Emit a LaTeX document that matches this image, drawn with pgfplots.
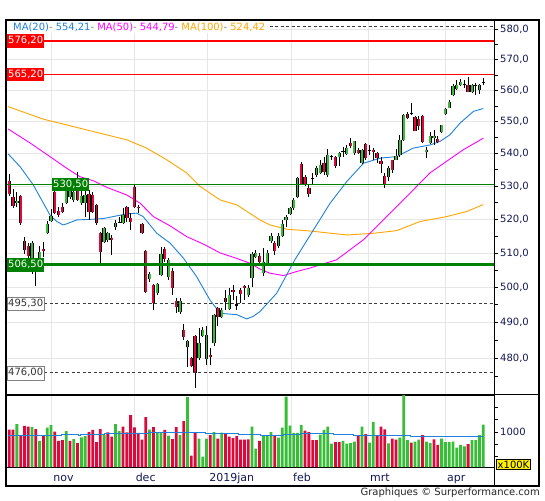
\documentclass[border=0pt]{standalone}
\usepackage{pgfplots}
\pgfplotsset{compat=1.18}
\usepackage{pgfplotstable}
\usepackage{fontspec}
\setmainfont{DejaVu Sans}
\definecolor{cred}{RGB}{220,10,60}
\definecolor{cgreen}{RGB}{55,190,55}
\definecolor{cblue}{RGB}{30,130,220}
\definecolor{cmag}{RGB}{255,0,255}
\definecolor{corange}{RGB}{255,165,0}
\definecolor{lvred}{RGB}{255,0,0}
\definecolor{lvgreen}{RGB}{0,128,0}
\definecolor{gridc}{RGB}{230,230,230}
\definecolor{labc}{RGB}{20,25,85}
\definecolor{dashc}{RGB}{60,60,60}

% wicks: low, high, break
\pgfplotstableread[row sep=\\]{
x y\\
0 527.0\\0 533.8\\0 nan\\ 1 523.4\\1 529.2\\1 nan\\ 2 523.7\\2 528.3\\2 nan\\ 3 518.3\\3 527.3\\3 nan\\
4 509.7\\4 514.8\\4 nan\\ 5 507.4\\5 513.0\\5 nan\\ 6 503.9\\6 513.6\\6 nan\\ 7 500.4\\7 508.3\\7 nan\\
8 507.4\\8 512.1\\8 nan\\ 9 508.9\\9 513.3\\9 nan\\ 10 515.6\\10 519.5\\10 nan\\ 11 519.2\\11 523.1\\11 nan\\
12 521.6\\12 528.6\\12 nan\\ 13 520.7\\13 523.7\\13 nan\\ 14 521.9\\14 524.9\\14 nan\\ 15 524.6\\15 530.1\\15 nan\\
16 526.1\\16 530.7\\16 nan\\ 17 525.2\\17 530.1\\17 nan\\ 18 525.5\\18 534.4\\18 nan\\ 19 524.3\\19 528.9\\19 nan\\
20 520.7\\20 529.5\\20 nan\\ 21 519.8\\21 528.9\\21 nan\\ 22 521.9\\22 528.3\\22 nan\\ 23 518.3\\23 524.6\\23 nan\\
24 507.1\\24 516.2\\24 nan\\ 25 513.0\\25 517.7\\25 nan\\ 26 513.3\\26 516.2\\26 nan\\ 27 509.4\\27 515.3\\27 nan\\
28 516.8\\28 519.8\\28 nan\\ 29 518.9\\29 520.7\\29 nan\\ 30 518.6\\30 523.4\\30 nan\\ 31 519.2\\31 524.0\\31 nan\\
32 516.8\\32 521.9\\32 nan\\ 33 523.4\\33 530.4\\33 nan\\ 34 521.9\\34 524.3\\34 nan\\ 35 515.6\\35 519.0\\35 nan\\
36 498.4\\36 510.9\\36 nan\\ 37 501.6\\37 504.5\\37 nan\\ 38 493.6\\38 500.9\\38 nan\\ 39 497.9\\39 501.3\\39 nan\\
40 503.3\\40 511.8\\40 nan\\ 41 507.4\\41 511.8\\41 nan\\ 42 502.2\\42 508.6\\42 nan\\ 43 497.9\\43 505.7\\43 nan\\
44 492.7\\44 497.0\\44 nan\\ 45 492.5\\45 497.0\\45 nan\\ 46 485.1\\46 489.6\\46 nan\\ 47 477.7\\47 485.1\\47 nan\\
48 477.6\\48 480.4\\48 nan\\ 49 471.8\\49 486.4\\49 nan\\ 50 479.6\\50 488.5\\50 nan\\ 51 486.0\\51 488.6\\51 nan\\
52 478.2\\52 488.9\\52 nan\\ 53 478.2\\53 482.8\\53 nan\\ 54 483.3\\54 492.4\\54 nan\\ 55 488.9\\55 494.5\\55 nan\\
56 491.2\\56 494.0\\56 nan\\ 57 493.6\\57 499.3\\57 nan\\ 58 493.6\\58 499.8\\58 nan\\ 59 496.4\\59 500.7\\59 nan\\
60 493.6\\60 497.4\\60 nan\\ 61 495.5\\61 499.8\\61 nan\\ 62 496.4\\62 500.7\\62 nan\\ 63 497.2\\63 500.7\\63 nan\\
64 500.2\\64 510.4\\64 nan\\ 65 508.5\\65 510.9\\65 nan\\ 66 506.2\\66 510.0\\66 nan\\ 67 503.2\\67 511.4\\67 nan\\
68 506.5\\68 510.9\\68 nan\\ 69 512.9\\69 515.8\\69 nan\\ 70 509.4\\70 513.4\\70 nan\\ 71 511.5\\71 515.9\\71 nan\\
72 514.8\\72 519.8\\72 nan\\ 73 517.8\\73 521.3\\73 nan\\ 74 521.3\\74 523.8\\74 nan\\ 75 522.8\\75 526.3\\75 nan\\
76 526.3\\76 532.9\\76 nan\\ 77 530.5\\77 537.5\\77 nan\\ 78 530.1\\78 533.4\\78 nan\\ 79 526.6\\79 530.7\\79 nan\\
80 530.7\\80 534.0\\80 nan\\ 81 532.8\\81 536.0\\81 nan\\ 82 533.8\\82 538.1\\82 nan\\ 83 533.4\\83 539.1\\83 nan\\
84 532.9\\84 541.4\\84 nan\\ 85 538.1\\85 539.6\\85 nan\\ 86 535.5\\86 539.3\\86 nan\\ 87 536.2\\87 540.6\\87 nan\\
88 539.1\\88 542.2\\88 nan\\ 89 539.6\\89 542.7\\89 nan\\ 90 541.7\\90 544.8\\90 nan\\ 91 539.6\\91 544.0\\91 nan\\
92 539.9\\92 541.7\\92 nan\\ 93 536.8\\93 541.4\\93 nan\\ 94 538.1\\94 543.2\\94 nan\\ 95 539.6\\95 542.7\\95 nan\\
96 538.1\\96 541.7\\96 nan\\ 97 537.1\\97 540.6\\97 nan\\ 98 534.0\\98 539.1\\98 nan\\ 99 529.4\\99 534.0\\99 nan\\
100 531.7\\100 536.0\\100 nan\\ 101 534.0\\101 538.1\\101 nan\\ 102 537.9\\102 541.4\\102 nan\\ 103 539.1\\103 545.9\\103 nan\\
104 544.1\\104 552.4\\104 nan\\ 105 550.8\\105 553.2\\105 nan\\ 106 552.2\\106 555.9\\106 nan\\ 107 547.1\\107 551.9\\107 nan\\
108 547.4\\108 551.7\\108 nan\\ 109 543.3\\109 552.1\\109 nan\\ 110 538.6\\110 542.2\\110 nan\\ 111 543.1\\111 546.9\\111 nan\\
112 542.7\\112 547.4\\112 nan\\ 113 543.3\\113 545.6\\113 nan\\ 114 546.4\\114 549.0\\114 nan\\ 115 552.2\\115 554.4\\115 nan\\
116 554.4\\116 557.0\\116 nan\\ 117 558.3\\117 562.1\\117 nan\\ 118 560.2\\118 563.4\\118 nan\\ 119 561.5\\119 563.7\\119 nan\\
120 560.8\\120 563.4\\120 nan\\ 121 559.4\\121 564.5\\121 nan\\ 122 559.2\\122 562.1\\122 nan\\ 123 558.6\\123 562.4\\123 nan\\
124 558.9\\124 562.1\\124 nan\\ 125 561.8\\125 564.0\\125 nan\\
}\wicks

% falling bodies: open, close, break
\pgfplotstableread[row sep=\\]{
x y\\
0 531.6\\0 527.6\\0 nan\\ 1 526.7\\1 524.0\\1 nan\\ 3 527.0\\3 518.9\\3 nan\\ 4 513.6\\4 510.9\\4 nan\\
5 512.1\\5 509.2\\5 nan\\ 7 507.4\\7 506.5\\7 nan\\ 9 511.2\\9 510.6\\9 nan\\ 12 528.3\\12 521.9\\12 nan\\
13 522.5\\13 521.3\\13 nan\\ 14 523.7\\14 522.2\\14 nan\\ 18 531.3\\18 525.8\\18 nan\\ 21 527.6\\21 522.2\\21 nan\\
22 527.3\\22 522.2\\22 nan\\ 23 524.3\\23 518.9\\23 nan\\ 24 515.9\\24 510.3\\24 nan\\ 27 514.5\\27 513.9\\27 nan\\
31 523.7\\31 520.4\\31 nan\\ 32 520.4\\32 519.2\\32 nan\\ 33 529.8\\33 523.7\\33 nan\\ 34 523.8\\34 523.3\\34 nan\\
35 518.6\\35 515.9\\35 nan\\ 36 510.6\\36 498.7\\36 nan\\ 38 500.7\\38 495.6\\38 nan\\ 41 511.2\\41 508.3\\41 nan\\
43 504.8\\43 499.9\\43 nan\\ 44 496.1\\44 494.4\\44 nan\\ 46 487.9\\46 486.0\\46 nan\\ 48 480.0\\48 478.0\\48 nan\\
49 486.2\\49 475.9\\49 nan\\ 53 480.8\\53 480.3\\53 nan\\ 55 494.2\\55 491.5\\55 nan\\ 57 497.0\\57 495.9\\57 nan\\
59 499.3\\59 498.6\\59 nan\\ 61 499.3\\61 498.1\\61 nan\\ 62 500.4\\62 499.8\\62 nan\\ 66 509.2\\66 507.4\\66 nan\\
70 512.9\\70 510.7\\70 nan\\ 77 536.7\\77 530.7\\77 nan\\ 78 532.7\\78 530.7\\78 nan\\ 79 529.5\\79 527.5\\79 nan\\
83 537.1\\83 534.2\\83 nan\\ 86 539.1\\86 536.0\\86 nan\\ 90 543.3\\90 542.5\\90 nan\\ 92 541.2\\92 540.1\\92 nan\\
94 543.0\\94 538.5\\94 nan\\ 96 541.0\\96 540.6\\96 nan\\ 97 540.3\\97 538.6\\97 nan\\ 98 537.6\\98 536.7\\98 nan\\
99 533.1\\99 530.7\\99 nan\\ 101 537.9\\101 535.0\\101 nan\\ 105 552.4\\105 551.3\\105 nan\\ 107 551.4\\107 547.2\\107 nan\\
108 550.8\\108 548.5\\108 nan\\ 109 551.9\\109 543.6\\109 nan\\ 113 544.5\\113 543.5\\113 nan\\ 121 561.8\\121 559.6\\121 nan\\
}\bodyred

% rising bodies: open, close, break
\pgfplotstableread[row sep=\\]{
x y\\
2 524.9\\2 525.5\\2 nan\\ 6 504.5\\6 513.0\\6 nan\\ 8 508.6\\8 510.3\\8 nan\\ 10 515.9\\10 518.6\\10 nan\\
11 519.5\\11 521.0\\11 nan\\ 15 524.9\\15 528.9\\15 nan\\ 16 526.7\\16 529.5\\16 nan\\ 17 525.8\\17 528.3\\17 nan\\
19 524.9\\19 527.0\\19 nan\\ 20 524.9\\20 527.3\\20 nan\\ 25 513.3\\25 517.4\\25 nan\\ 26 513.9\\26 515.9\\26 nan\\
28 517.7\\28 518.9\\28 nan\\ 30 518.9\\30 521.3\\30 nan\\ 37 502.5\\37 503.9\\37 nan\\ 39 498.4\\39 501.0\\39 nan\\
40 503.6\\40 509.7\\40 nan\\ 42 503.0\\42 508.0\\42 nan\\ 45 493.0\\45 496.1\\45 nan\\ 47 483.0\\47 484.7\\47 nan\\
50 480.0\\50 484.2\\50 nan\\ 51 486.2\\51 487.9\\51 nan\\ 52 479.8\\52 486.5\\52 nan\\ 54 484.2\\54 492.2\\54 nan\\
56 491.5\\56 493.4\\56 nan\\ 58 493.9\\58 497.7\\58 nan\\ 63 497.7\\63 499.9\\63 nan\\ 64 502.7\\64 509.7\\64 nan\\
65 508.8\\65 510.0\\65 nan\\ 67 504.1\\67 507.5\\67 nan\\ 68 507.0\\68 510.1\\68 nan\\ 69 513.4\\69 515.0\\69 nan\\
71 511.9\\71 515.0\\71 nan\\ 72 515.0\\72 518.6\\72 nan\\ 73 519.6\\73 520.8\\73 nan\\ 74 521.6\\74 523.3\\74 nan\\
75 523.3\\75 525.8\\75 nan\\ 76 526.6\\76 532.6\\76 nan\\ 81 533.4\\81 535.4\\81 nan\\ 82 534.0\\82 536.5\\82 nan\\
84 533.4\\84 539.4\\84 nan\\ 87 539.1\\87 540.1\\87 nan\\ 89 539.9\\89 541.7\\89 nan\\ 91 540.1\\91 543.8\\91 nan\\
93 537.1\\93 541.2\\93 nan\\ 100 532.9\\100 535.5\\100 nan\\ 102 538.1\\102 539.3\\102 nan\\ 103 539.6\\103 544.3\\103 nan\\
104 544.3\\104 552.2\\104 nan\\ 110 540.5\\110 541.2\\110 nan\\ 111 543.3\\111 545.4\\111 nan\\ 112 544.8\\112 545.6\\112 nan\\
114 546.9\\114 548.8\\114 nan\\ 115 552.5\\115 554.1\\115 nan\\ 116 554.5\\116 556.3\\116 nan\\ 117 558.6\\117 561.5\\117 nan\\
118 560.5\\118 561.8\\118 nan\\ 119 561.8\\119 562.8\\119 nan\\ 122 559.6\\122 561.8\\122 nan\\ 124 560.2\\124 561.8\\124 nan\\
}\bodygreen

% flat bodies (open ~ close)
\pgfplotstableread[row sep=\\]{
x y\\
29 519.3\\29 519.0\\29 nan\\ 60 495.1\\60 494.8\\60 nan\\ 80 532.6\\80 532.3\\80 nan\\ 85 539.0\\85 539.3\\85 nan\\
88 540.5\\88 540.8\\88 nan\\ 95 540.9\\95 541.2\\95 nan\\ 106 552.8\\106 552.5\\106 nan\\ 120 562.2\\120 561.9\\120 nan\\
123 561.5\\123 561.8\\123 nan\\ 125 562.4\\125 562.7\\125 nan\\
}\bodyflat

\begin{document}
\begin{tikzpicture}
\useasboundingbox (0pt,0pt) rectangle (545pt,500pt);
\fill[white] (0pt,0pt) rectangle (545pt,500pt);

% ---------------- price panel ----------------
\begin{axis}[
  at={(6pt,105pt)}, anchor=south west,
  scale only axis, width=488pt, height=375pt,
  xmin=-0.87, xmax=127.82,
  ymode=log, ymin=470.02, ymax=583.2,
  axis line style={black, line width=1pt},
  xtick={11.2,32.9,52.3,74.4,94.7,115.0}, xticklabels={},
  xtick style={draw=none},
  ytick={480,490,500,510,520,530,540,550,560,570,580},
  yticklabels={{480,0},{490,0},{500,0},{510,0},{520,0},{530,0},{540,0},{550,0},{560,0},{570,0},{580,0}},
  minor ytick={475,485,495,505,515,525,535,545,555,565,575},
  ytick pos=right, yticklabel pos=right,
  tick align=outside, major tick length=4pt, minor tick length=4pt,
  tick style={black, line width=0.7pt},
  yticklabel style={font=\fontsize{10}{12}\selectfont, text=labc, anchor=west, inner sep=0pt, xshift=2pt},
  /pgf/number format/assume math mode=true,
  xmajorgrids, ymajorgrids,
  grid style={gridc, line width=0.8pt},
  unbounded coords=jump,
]
% moving averages
\addplot[corange, line width=0.9pt] coordinates {(-0.3,554.8) (9.0,550.8) (15.1,549.0) (22.2,546.9) (31.0,544.3) (36.2,541.7) (41.5,538.1) (46.8,534.0) (50.3,529.9) (55.6,525.8) (60.0,524.3) (66.1,519.8) (68.7,518.3) (73.2,517.0) (79.3,516.5) (89.0,515.3) (96.0,515.8) (102.2,516.6) (108.3,519.3) (115.3,520.8) (120.6,522.3) (125,524.4)};
\addplot[cmag, line width=0.9pt] coordinates {(-0.3,547.7) (5.5,543.3) (10.7,539.1) (15.1,535.5) (18.6,532.9) (22.2,531.6) (25.7,529.6) (31.0,527.3) (34.5,524.8) (38.0,520.8) (42.4,518.0) (46.8,514.8) (51.2,512.6) (55.6,510.0) (60.0,508.4) (63.5,507.0) (66.1,505.3) (68.7,504.1) (72.3,503.4) (75.8,504.6) (79.3,505.6) (86.3,508.0) (93.4,513.9) (100.4,521.8) (106.6,528.9) (110.9,534.0) (115.3,537.6) (119.7,541.2) (125,544.8)};
\addplot[cblue, line width=0.9pt] coordinates {(-0.3,539.9) (2.8,536.0) (6.3,530.4) (9.0,524.8) (10.7,521.3) (12.5,519.3) (14.2,518.3) (15.1,518.6) (17.8,519.8) (22.2,520.0) (24.8,520.2) (27.4,520.8) (31.0,521.6) (33.6,521.8) (35.3,520.8) (38.9,515.8) (42.4,512.9) (45.9,508.5) (49.4,503.1) (52.9,496.4) (55.6,492.6) (60.0,492.2) (62.6,491.0) (64.3,491.7) (66.1,493.1) (70.5,498.3) (75.3,508.0) (80.2,516.8) (84.6,524.8) (89.0,531.4) (93.4,537.0) (97.8,538.6) (102.2,539.1) (106.5,541.7) (111.0,542.7) (113.6,543.8) (116.2,545.9) (118.9,549.6) (122.4,553.3) (125,554.2)};
% candles
\addplot[black, line width=0.8pt] table {\wicks};
\addplot[black, line width=3.3pt, line cap=butt] table {\bodyred};
\addplot[black, line width=3.3pt, line cap=butt] table {\bodygreen};
\addplot[black, line width=3.3pt, line cap=butt] table {\bodyflat};
\addplot[cred, line width=1.9pt, line cap=butt] table {\bodyred};
\addplot[cgreen, line width=1.9pt, line cap=butt] table {\bodygreen};
% level lines
\addplot[dashc, line width=0.8pt, dash pattern=on 3pt off 2.5pt] coordinates {(-1,581.0) (128,581.0)};
\addplot[dashc, line width=0.8pt, dash pattern=on 3pt off 2.5pt] coordinates {(-1,495.3) (128,495.3)};
\addplot[dashc, line width=0.8pt, dash pattern=on 3pt off 2.5pt] coordinates {(-1,476.0) (128,476.0)};
\addplot[lvred, line width=2pt] coordinates {(-1,576.2) (128,576.2)};
\addplot[lvred, line width=1.1pt] coordinates {(-1,565.2) (128,565.2)};
\addplot[lvgreen, line width=1.1pt] coordinates {(-1,530.5) (128,530.5)};
\addplot[lvgreen, line width=2.8pt] coordinates {(-1,506.5) (128,506.5)};
% level labels
\tikzset{lvl/.style={anchor=west, inner xsep=1pt, inner ysep=2.4pt, text height=7.3pt, text depth=1.6pt, font=\fontsize{10}{12}\selectfont}}
\node[lvl, fill=lvred, text=white] at (axis cs:-0.61,576.2) {576,20};
\node[lvl, fill=lvred, text=white] at (axis cs:-0.61,565.2) {565,20};
\node[lvl, fill=lvgreen, text=white] at (axis cs:11.26,530.5) {530,50};
\node[lvl, fill=lvgreen, text=white] at (axis cs:-0.61,506.5) {506,50};
\node[lvl, fill=white, draw=gray, text=black!80] at (axis cs:-0.61,495.3) {495,30};
\node[lvl, fill=white, draw=gray, text=black!80] at (axis cs:-0.61,476.0) {476,00};
\end{axis}

% ---------------- volume panel ----------------
\begin{axis}[
  at={(6pt,33pt)}, anchor=south west,
  scale only axis, width=488pt, height=72pt,
  xmin=-0.87, xmax=127.82, ymin=431, ymax=1602,
  axis line style={black, line width=1pt},
  xtick={11.2,32.9,52.3,74.4,94.7,115.0},
  xticklabels={nov,dec,2019jan,feb,mrt,apr},
  xtick style={draw=none},
  xticklabel style={anchor=base west, inner sep=0pt, xshift=1.5pt, yshift=-10pt, font=\fontsize{11}{13}\selectfont, text=labc},
  ytick={600,800,1000,1200,1400}, yticklabels={,,1000,,},
  ytick pos=right, yticklabel pos=right,
  tick align=outside, major tick length=4pt,
  tick style={black, line width=0.7pt},
  yticklabel style={font=\fontsize{10}{12}\selectfont, text=labc, anchor=west, inner sep=0pt, xshift=2pt},
  /pgf/number format/assume math mode=true,
  xmajorgrids,
  grid style={gridc, line width=0.8pt},
]
\addplot[ybar, bar width=2.8pt, bar shift=0pt, fill=cred, draw=none] coordinates {
(0,1038) (1,1038) (3,951) (4,1098) (5,1087) (7,1049) (9,940) (12,1005) (13,854) (14,870) (16,854) (18,821)
(21,1000) (22,1033) (23,837) (24,1049) (26,995) (27,924) (30,1087) (31,995) (32,1276) (33,1076) (34,984)
(35,875) (36,1244) (38,1081) (41,1033) (43,886) (44,1081) (46,1179) (48,615) (49,995) (53,951) (55,892)
(57,978) (58,924) (59,902) (60,935) (61,875) (62,875) (63,881) (66,854) (70,940) (78,1022) (79,1000)
(80,870) (81,870) (86,837) (87,837) (92,940) (94,967) (97,951) (98,1087) (99,1043) (101,892) (102,875)
(106,827) (109,951) (112,881) (113,789) (121,805)};
\addplot[ybar, bar width=2.8pt, bar shift=0pt, fill=cgreen, draw=none] coordinates {
(2,1130) (6,1081) (8,854) (10,1070) (11,1114) (15,1016) (17,886) (19,913) (20,935) (25,957) (28,1130)
(29,1016) (37,1038) (39,1000) (40,1000) (42,940) (45,951) (47,1569) (50,892) (51,599) (52,892) (54,1000)
(56,989) (64,1087) (65,729) (67,935) (68,935) (69,1000) (71,908) (72,1070) (73,1575) (74,1103) (75,984)
(76,984) (77,1114) (82,957) (83,1033) (84,1087) (85,810) (88,854) (89,810) (90,821) (91,843) (93,1087)
(95,827) (96,1163) (100,816) (103,908) (104,1650) (105,870) (107,843) (108,875) (110,843) (111,821)
(114,892) (115,837) (116,837) (117,843) (118,745) (119,789) (120,767) (122,870) (123,870) (124,951) (125,1119)};
\addplot[cblue, line width=0.9pt] coordinates {(-0.4,940) (13.8,940) (13.8,967) (18.3,967) (18.3,946) (18.8,946) (18.8,967) (25.2,967) (25.2,984) (36.7,984) (36.7,1000) (46.3,1000) (46.3,995) (51.6,995) (51.6,984) (60.4,984) (60.4,962) (66.1,962) (66.1,946) (72.3,946) (72.3,962) (76.7,962) (76.7,984) (85.4,984) (85.4,967) (90.7,967) (90.7,951) (105.7,951) (105.7,935) (118.9,935) (118.9,924) (125,924)};
\end{axis}

% frame and decorations
\draw[black, line width=1.2pt] (6pt,14pt) rectangle (539pt,480pt);
\draw[black, line width=1pt] (494pt,33pt) -- (494pt,14pt);
\draw[black, line width=1pt] (494pt,105pt) -- (539pt,105pt);
\node[fill=yellow, draw=black, line width=0.6pt, inner xsep=1pt, inner ysep=1.5pt, font=\fontsize{10}{12}\selectfont] at (513.5pt,35.5pt) {x100K};
% legend
\fill[white] (7pt,467pt) rectangle (270pt,479.4pt);
\node[anchor=west, inner sep=0pt, font=\fontsize{9.95}{11}\selectfont] at (13pt,473pt) {\textcolor{cblue}{MA(20)}\textcolor{gray}{ - }\textcolor{cblue}{554,21}\textcolor{gray}{ - }\textcolor{cmag}{MA(50)}\textcolor{gray}{ - }\textcolor{cmag}{544,79}\textcolor{gray}{ - }\textcolor{corange}{MA(100)}\textcolor{gray}{ - }\textcolor{corange}{524,42}};
% footer
\node[anchor=base east, inner sep=0pt, font=\fontsize{10}{12}\selectfont, text=black!85] at (540pt,5pt) {Graphiques © Surperformance.com};
\end{tikzpicture}
\end{document}
